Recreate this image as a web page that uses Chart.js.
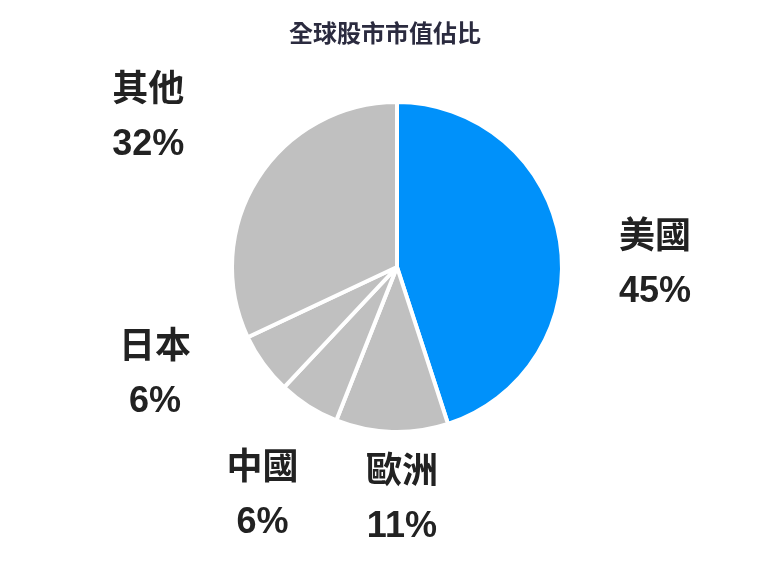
<!DOCTYPE html>
<html><head><meta charset="utf-8">
<script src="https://cdn.jsdelivr.net/npm/chart.js@4"></script>
<style>html,body{margin:0;padding:0;background:#fff}#w{width:780px;height:563px}</style>
</head><body><div id="w"><canvas id="c"></canvas></div>
<script>
const titleText = '全球股市市值佔比';
const categories = ['美國','歐洲','中國','日本','其他'];
const values = [45, 11, 6, 6, 32];
const colors = ['#0091fa','#c0c0c0','#c0c0c0','#c0c0c0','#c0c0c0'];
const FONT = '"Liberation Sans", Arial, "Noto Sans CJK TC", sans-serif';
// label placement tweaks (degrees of rotation, extra distance beyond radius)
const labelAngleShift = [8.5, -3, -2, 12, -1.5];
const labelExtra = [93, 68, 101, 100, 125];

const labelPlugin = {
  id: 'outLabels',
  afterDraw(chart) {
    const ctx = chart.ctx;
    ctx.save();
    ctx.fillStyle = '#2b2b3f';
    ctx.font = 'bold 24px ' + FONT;
    ctx.textAlign = 'center'; ctx.textBaseline = 'middle';
    ctx.fillText(titleText, 385, 35);
    const meta = chart.getDatasetMeta(0);
    ctx.fillStyle = '#222';
    ctx.font = 'bold 36px ' + FONT;
    meta.data.forEach((arc, i) => {
      const p = arc.getProps(['x','y','startAngle','endAngle','outerRadius'], true);
      const mid = (p.startAngle + p.endAngle) / 2 + labelAngleShift[i] * Math.PI / 180;
      const d = p.outerRadius + labelExtra[i];
      const x = p.x + Math.cos(mid) * d, y = p.y + Math.sin(mid) * d;
      ctx.fillText(categories[i], x, y - 27);
      ctx.fillText(values[i] + '%', x, y + 27);
    });
    ctx.restore();
  }
};

new Chart(document.getElementById('c'), {
  type: 'pie',
  data: { labels: categories, datasets: [{ data: values, backgroundColor: colors, borderColor: '#fff', borderWidth: 4 }] },
  options: {
    responsive: true, maintainAspectRatio: false, animation: false,
    layout: { padding: { top: 100, bottom: 129, left: 230, right: 216 } },
    plugins: { legend: { display: false }, tooltip: { enabled: false }, title: { display: false } }
  },
  plugins: [labelPlugin]
});
</script></body></html>
